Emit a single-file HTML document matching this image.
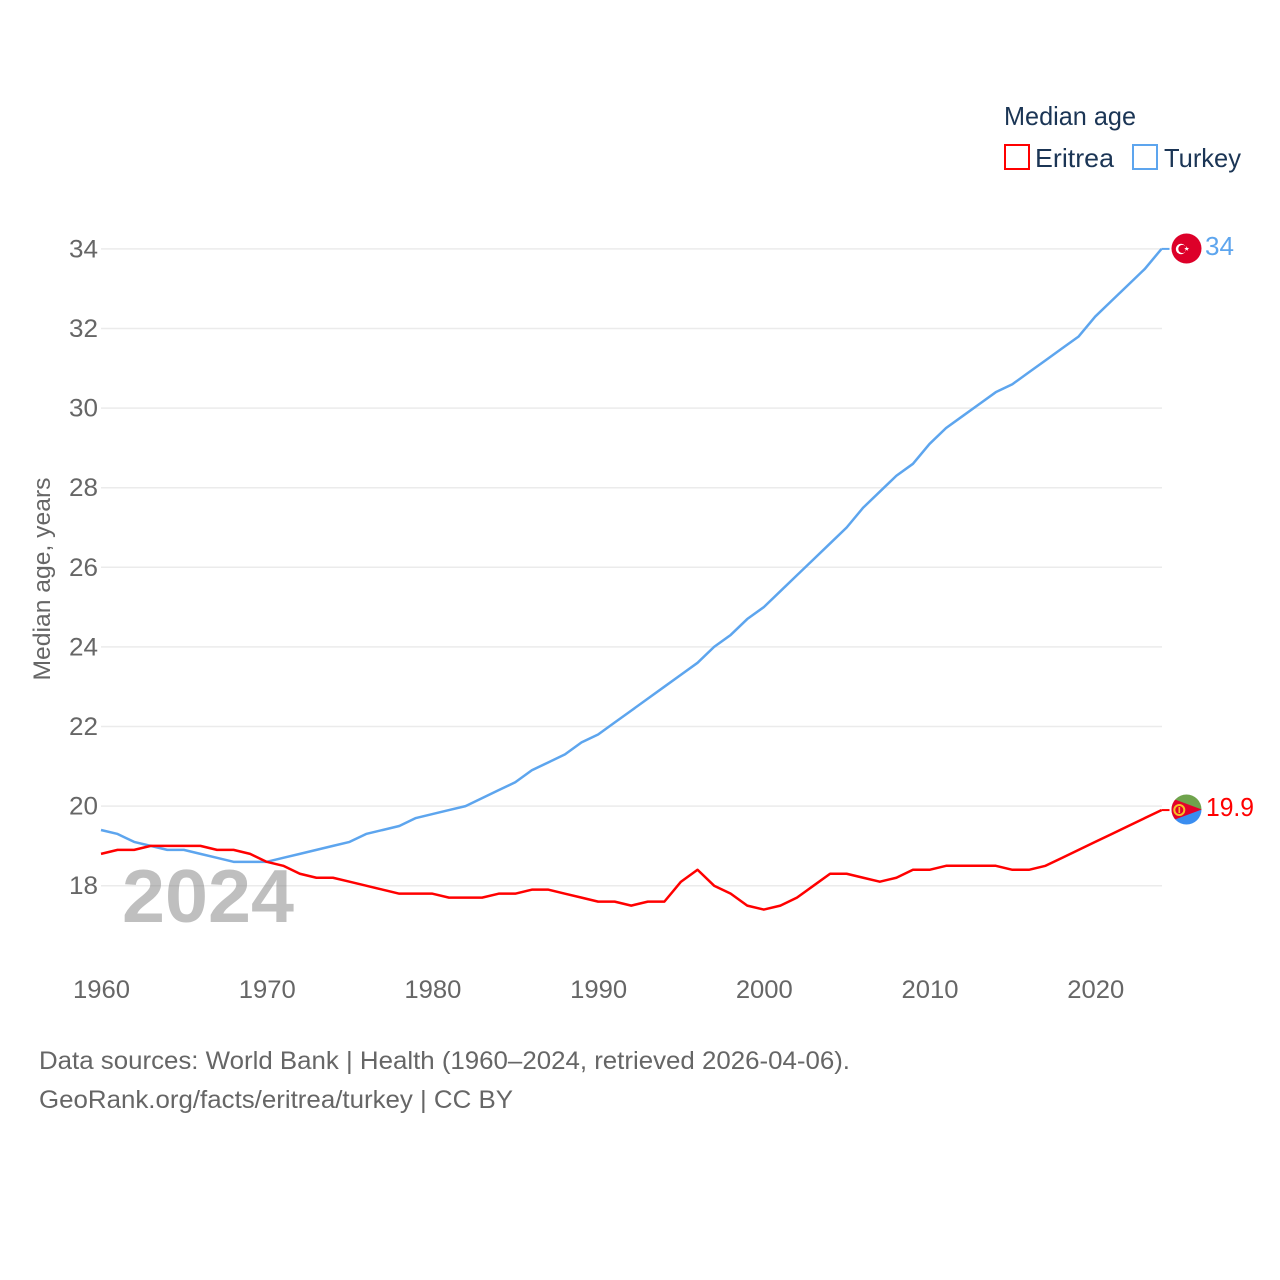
<!DOCTYPE html>
<html lang="en">
<head>
<meta charset="utf-8">
<title>Median age: Eritrea and Turkey</title>
<style>
html,body{margin:0;padding:0;background:#fff;width:1280px;height:1280px;overflow:hidden}
svg{display:block}
text{font-family:"Liberation Sans",sans-serif}
</style>
</head>
<body>
<svg id="chart" width="1280" height="1280" viewBox="0 0 1280 1280" xmlns="http://www.w3.org/2000/svg">
  <rect width="1280" height="1280" fill="#fff"/>
  <g id="grid"></g>
  <text x="122" y="922" font-size="75" font-weight="700" fill="#808080" fill-opacity="0.5" textLength="172" lengthAdjust="spacingAndGlyphs">2024</text>
  <g id="yticks"></g>
  <g id="xticks"></g>
  <text transform="translate(50,579) rotate(-90)" text-anchor="middle" font-size="24" fill="#666" textLength="203" lengthAdjust="spacingAndGlyphs">Median age, years</text>
  <g id="series"></g>

  <g>
    <text x="1004" y="125" font-size="26" fill="#1b3555" textLength="132" lengthAdjust="spacingAndGlyphs">Median age</text>
    <rect x="1005" y="145" width="24" height="24" fill="#fff" stroke="#ff0000" stroke-width="2"/>
    <text x="1035" y="167" font-size="26" fill="#1b3555" textLength="79" lengthAdjust="spacingAndGlyphs">Eritrea</text>
    <rect x="1133" y="145" width="24" height="24" fill="#fff" stroke="#5da5ee" stroke-width="2"/>
    <text x="1164" y="167" font-size="26" fill="#1b3555" textLength="77" lengthAdjust="spacingAndGlyphs">Turkey</text>
  </g>

  <g id="flag-turkey">
    <circle cx="1186.500" cy="248.500" r="15" fill="#dd0029"/>
    <circle cx="1181" cy="249" r="5.200" fill="#fff"/>
    <circle cx="1182.400" cy="249" r="4.100" fill="#dd0029"/>
    <polygon points="1186.700,246.200 1187.300,248 1189.200,248 1187.700,249.100 1188.200,250.900 1186.700,249.800 1185.200,250.900 1185.700,249.100 1184.200,248 1186.100,248" fill="#fff"/>
  </g>
  <g id="flag-eritrea">
    <clipPath id="eritrea-clip"><circle cx="1186.500" cy="809.500" r="15"/></clipPath>
    <g clip-path="url(#eritrea-clip)">
      <rect x="1171" y="794" width="31" height="16" fill="#6fa34c"/>
      <rect x="1171" y="809.500" width="31" height="16" fill="#3a8df0"/>
      <polygon points="1168,797 1202,809.500 1168,822" fill="#e4002b"/>
      <circle cx="1179.300" cy="810" r="5" fill="none" stroke="#f5c028" stroke-width="2"/>
      <rect x="1178.500" y="807" width="1.600" height="6" fill="#f5c028"/>
    </g>
  </g>
  <text x="1205" y="255" font-size="26" fill="#5da5ee" textLength="29" lengthAdjust="spacingAndGlyphs">34</text>
  <text x="1206" y="816" font-size="26" fill="#ff0000" textLength="48" lengthAdjust="spacingAndGlyphs">19.9</text>

  <g font-size="25" fill="#666">
    <text x="39" y="1069" textLength="811" lengthAdjust="spacingAndGlyphs">Data sources: World Bank | Health (1960–2024, retrieved 2026-04-06).</text>
    <text x="39" y="1108" textLength="474" lengthAdjust="spacingAndGlyphs">GeoRank.org/facts/eritrea/turkey | CC BY</text>
  </g>
</svg>
<script>
const startYear = 1960;
const turkeyValues = [19.4,19.3,19.1,19.0,18.9,18.9,18.8,18.7,18.6,18.6,18.6,18.7,18.8,18.9,19.0,19.1,19.3,19.4,19.5,19.7,19.8,19.9,20.0,20.2,20.4,20.6,20.9,21.1,21.3,21.6,21.8,22.1,22.4,22.7,23.0,23.3,23.6,24.0,24.3,24.7,25.0,25.4,25.8,26.2,26.6,27.0,27.5,27.9,28.3,28.6,29.1,29.5,29.8,30.1,30.4,30.6,30.9,31.2,31.5,31.8,32.3,32.7,33.1,33.5,34.0];
const eritreaValues = [18.8,18.9,18.9,19.0,19.0,19.0,19.0,18.9,18.9,18.8,18.6,18.5,18.3,18.2,18.2,18.1,18.0,17.9,17.8,17.8,17.8,17.7,17.7,17.7,17.8,17.8,17.9,17.9,17.8,17.7,17.6,17.6,17.5,17.6,17.6,18.1,18.4,18.0,17.8,17.5,17.4,17.5,17.7,18.0,18.3,18.3,18.2,18.1,18.2,18.4,18.4,18.5,18.5,18.5,18.5,18.4,18.4,18.5,18.7,18.9,19.1,19.3,19.5,19.7,19.9];
const yTicks = [18,20,22,24,26,28,30,32,34];
const xTicks = [1960,1970,1980,1990,2000,2010,2020];

const NS = 'http://www.w3.org/2000/svg';
const xScale = function (year) { return 101 + (year - 1960) * (1161.5 - 101) / 64; };
const yScale = function (v) { return 885.7 - (v - 18) * (885.7 - 248.9) / 16; };

function make(tag, parent) {
  const el = document.createElementNS(NS, tag);
  parent.appendChild(el);
  return el;
}

const gridGroup = document.getElementById('grid');
const yGroup = document.getElementById('yticks');
const xGroup = document.getElementById('xticks');
const seriesGroup = document.getElementById('series');

yTicks.forEach(function (t) {
  const line = make('line', gridGroup);
  
  
  line.setAttribute('x1', 101);
  line.setAttribute('x2', 1162);
  line.setAttribute('y1', yScale(t));
  line.setAttribute('y2', yScale(t));
  line.setAttribute('stroke', '#ebebeb');
  line.setAttribute('stroke-width', 1.5);

  const label = make('text', yGroup);
  
  
  label.setAttribute('x', 98);
  label.setAttribute('y', yScale(t) + 8.5);
  label.setAttribute('text-anchor', 'end');
  label.setAttribute('font-size', 25);
  label.setAttribute('fill', '#666');
  label.setAttribute('textLength', 29);
  label.setAttribute('lengthAdjust', 'spacingAndGlyphs');
  label.textContent = t;
});

xTicks.forEach(function (t) {
  const label = make('text', xGroup);
  
  
  label.setAttribute('x', xScale(t) + 0.5);
  label.setAttribute('y', 998);
  label.setAttribute('text-anchor', 'middle');
  label.setAttribute('font-size', 25);
  label.setAttribute('fill', '#666');
  label.setAttribute('textLength', 57);
  label.setAttribute('lengthAdjust', 'spacingAndGlyphs');
  label.textContent = t;
});

function drawSeries(values, color) {
  const pts = values.map(function (v, i) {
    return xScale(startYear + i).toFixed(2) + ',' + yScale(v).toFixed(2);
  });
  const path = make('polyline', seriesGroup);
  path.setAttribute('points', pts.join(' '));
  path.setAttribute('fill', 'none');
  path.setAttribute('stroke', color);
  path.setAttribute('stroke-width', 2.5);
  path.setAttribute('stroke-linejoin', 'round');
  return path;
}

function drawConnector(values, color) {
  const last = values[values.length - 1];
  const lastX = xScale(startYear + values.length - 1);
  const line = make('line', seriesGroup);
  line.setAttribute('x1', lastX);
  line.setAttribute('x2', lastX + 8);
  line.setAttribute('y1', yScale(last));
  line.setAttribute('y2', yScale(last));
  line.setAttribute('stroke', color);
  line.setAttribute('stroke-width', 2);
  return line;
}

const turkeyLine = drawSeries(turkeyValues, '#5da5ee');


const eritreaLine = drawSeries(eritreaValues, '#ff0000');


const turkeyConnector = drawConnector(turkeyValues, '#5da5ee');


const eritreaConnector = drawConnector(eritreaValues, '#ff0000');


</script>
</body>
</html>
